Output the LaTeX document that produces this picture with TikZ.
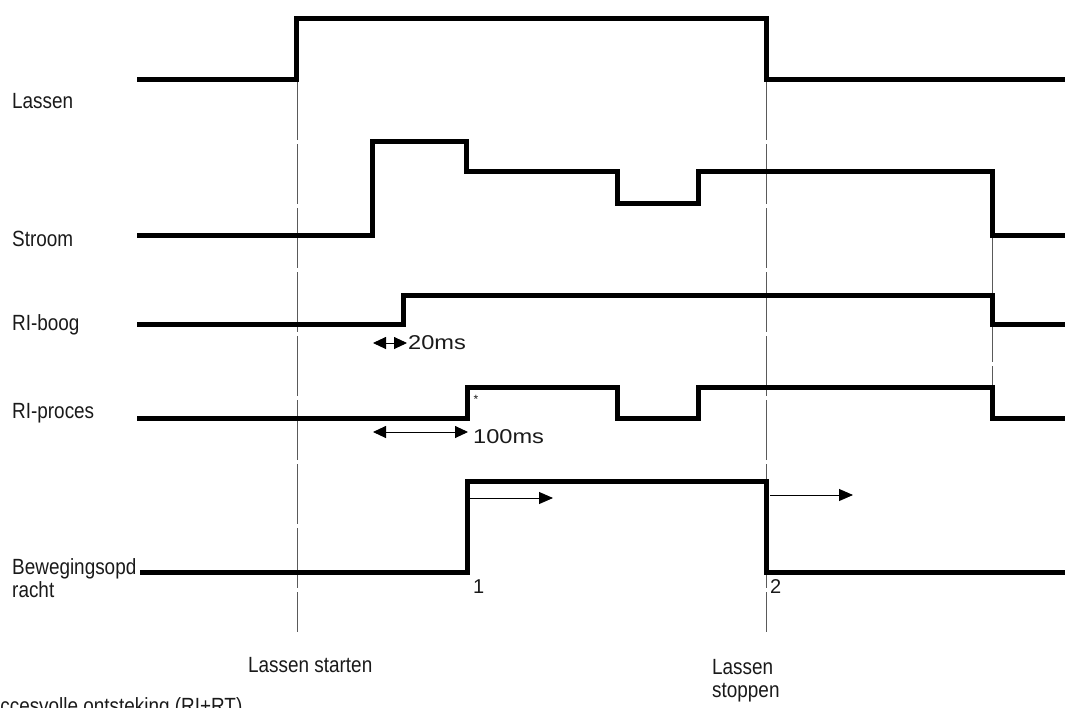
\documentclass[tikz,border=0pt]{standalone}
\usepackage{fontspec}
\setmainfont{Liberation Sans}
\newfontfamily\tdcond[FakeStretch=0.86]{Liberation Sans}
\newfontfamily\tdwide[FakeStretch=1.18]{Liberation Sans}
\usepackage{tikz}
\usetikzlibrary{arrows.meta,positioning}
\definecolor{tdInk}{HTML}{000000}
\definecolor{tdText}{HTML}{1A1A1A}
\definecolor{tdGuide}{HTML}{5A5A5A}
\tikzset{
  td-sig/.style={draw=tdInk, line width=5pt, line join=miter, line cap=butt},
  td-guide/.style={draw=tdGuide, line width=0.9pt, dash pattern=on 60pt off 4pt},
  td-dim/.style={{Triangle[length=13pt,width=12pt]}-{Triangle[length=13pt,width=12pt]},
    draw=tdInk, line width=0.9pt},
  td-move/.style={-{Triangle[length=14pt,width=12pt]}, draw=tdInk, line width=0.9pt},
  td-name/.style={font=\tdcond\fontsize{22}{23}\selectfont, text=tdText,
    anchor=base west, inner sep=0pt, align=left},
  td-small/.style={font=\tdwide\fontsize{20}{22}\selectfont, text=tdText,
    anchor=base west, inner sep=0pt}
}

\begin{document}
\begin{tikzpicture}[x=1pt, y=-1pt]
\useasboundingbox (0,0) rectangle (1065,707);

% guide lines
\draw[td-guide] (297,80) -- (297,632);
\draw[td-guide] (766,80) -- (766,632);
\draw[td-guide] (992,238) -- (992,386);

% signals
\draw[td-sig] (137,79) -- (296,79) -- (296,18) -- (766,18) -- (766,79) -- (1065,79);
\draw[td-sig] (137,235) -- (372,235) -- (372,141) -- (466,141) -- (466,171)
  -- (617,171) -- (617,203) -- (698,203) -- (698,171) -- (992,171)
  -- (992,235) -- (1065,235);
\draw[td-sig] (137,324) -- (403,324) -- (403,295) -- (992,295) -- (992,324)
  -- (1065,324);
\draw[td-sig] (137,418) -- (467,418) -- (467,387) -- (617,387) -- (617,418)
  -- (698,418) -- (698,387) -- (992,387) -- (992,418) -- (1065,418);
\draw[td-sig] (140,572) -- (467,572) -- (467,481) -- (766,481) -- (766,572)
  -- (1065,572);

% signal names
\node[td-name] (lassen) at (12,108) {Lassen};
\node[td-name] (stroom) at (12,246) {Stroom};
\node[td-name] (boog) at (12,330) {RI-boog};
\node[td-name] (proces) at (12,418) {RI-proces};
\node[td-name] (beweging) at (12,597) {Bewegingsopd\\racht};

% timing marks
\coordinate (b20) at (373,343);
\coordinate (e20) at (407,343);
\draw[td-dim] (b20) -- (e20);
\node[td-small] (t20) at (408,349) {20ms};
\coordinate (b100) at (373,432);
\coordinate (e100) at (468,432);
\draw[td-dim] (b100) -- (e100);
\node[td-small] (t100) at (473,443) {100ms};
\node[font=\fontsize{12}{12}\selectfont, text=tdText, inner sep=0pt] (ster) at (476,399) {*};

% movement arrows
\coordinate (m1a) at (470,498);
\coordinate (m1b) at (553,498);
\draw[td-move] (m1a) -- (m1b);
\coordinate (m2a) at (770,495);
\coordinate (m2b) at (853,495);
\draw[td-move] (m2a) -- (m2b);
\node[td-small, font=\fontsize{20}{22}\selectfont] (een) at (473,593) {1};
\node[td-small, font=\fontsize{20}{22}\selectfont] (twee) at (770,593) {2};

% bottom texts
\node[td-name] (start) at (248,672) {Lassen starten};
\node[td-name] (stop) at (712,697) {Lassen\\stoppen};
\node[td-name] (ontst) at (-23,713) {Succesvolle ontsteking (RI+RT)};
\end{tikzpicture}
\end{document}
